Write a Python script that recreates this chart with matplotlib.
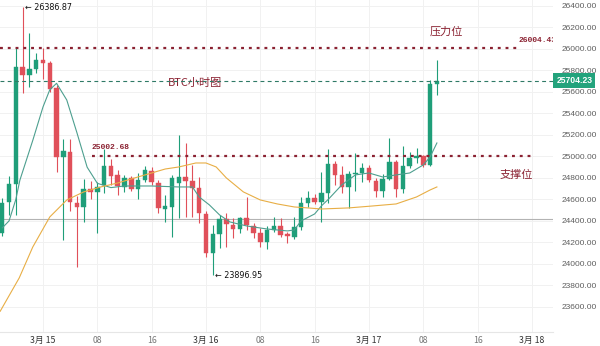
import matplotlib
matplotlib.use("Agg")
import matplotlib.pyplot as plt
import matplotlib.transforms as mtransforms

# hourly candles, hour 0 = 3月15 00:00
hours = list(range(-6, 59))
opens = [24288, 24577, 24744, 25832, 25758, 25813, 25897, 25869, 25637, 24995,
         25042, 24567, 24530, 24697, 24670, 24735, 24911, 24828, 24716, 24800,
         24697, 24781, 24865, 24753, 24511, 24530, 24753, 24809, 24772, 24707,
         24465, 24102, 24279, 24418, 24363, 24325, 24428, 24353, 24288, 24205,
         24316, 24353, 24279, 24251, 24344, 24567, 24614, 24577, 24660, 24930,
         24828, 24716, 24837, 24846, 24893, 24772, 24679, 24790, 24948, 24697,
         24911, 24986, 25004, 24920, 25674]
highs = [24614, 24818, 26018, 26386.87, 26148, 25962, 26009, 25888, 25665, 25162,
         25162, 24632, 24790, 24772, 24763, 25069, 24976, 24874, 24828, 24818,
         24846, 24911, 24902, 24781, 24642, 24828, 25200, 25125, 24921, 24809,
         24493, 24363, 24456, 24474, 24428, 24437, 24623, 24381, 24335, 24353,
         24437, 24428, 24298, 24437, 24623, 24679, 24651, 24856, 25069, 24958,
         24911, 24865, 25032, 24939, 24921, 24800, 24837, 25172, 24967, 25097,
         25042, 25079, 25014, 25711, 25897]
lows = [24260, 24456, 24456, 25590, 25646, 25776, 25720, 25600, 24856, 24223,
        24493, 23972, 24391, 24604, 24288, 24660, 24735, 24642, 24670, 24679,
        24604, 24763, 24735, 24474, 24391, 24251, 24428, 24437, 24437, 24381,
        24065, 23896.95, 24149, 24158, 24242, 24288, 24316, 24242, 24158, 24139,
        24298, 24251, 24195, 24232, 24316, 24530, 24558, 24391, 24567, 24735,
        24660, 24521, 24679, 24763, 24763, 24623, 24623, 24781, 24623, 24660,
        24893, 24939, 24902, 24911, 25572]
closes = [24567, 24744, 25832, 25758, 25813, 25897, 25869, 25627, 24995, 25051,
          24577, 24530, 24697, 24670, 24716, 24911, 24818, 24725, 24800, 24697,
          24781, 24874, 24763, 24521, 24539, 24800, 24809, 24772, 24707, 24474,
          24102, 24279, 24418, 24372, 24325, 24428, 24363, 24288, 24205, 24316,
          24353, 24270, 24260, 24344, 24567, 24614, 24577, 24660, 24930, 24828,
          24716, 24837, 24846, 24893, 24781, 24679, 24790, 24948, 24697, 24911,
          24986, 25004, 24921, 25674, 25704.23]

# moving averages
ma_fast_hours = [-6, -5, -4, -3.4, -1.5, 0, 1, 2, 3.5, 5, 6.5, 8, 10, 12, 16, 20, 22,
                 23, 24.5, 26, 27.5, 30, 33, 36, 37, 38, 40, 41, 42, 44, 46, 48, 50,
                 52, 54, 56, 57, 58]
ma_fast = [24335, 24400, 24600, 24780, 25150, 25460, 25620, 25680, 25525, 25220,
           24900, 24750, 24710, 24725, 24725, 24716, 24716, 24623, 24549, 24456,
           24391, 24353, 24325, 24307, 24316, 24400, 24465, 24540, 24600, 24735,
           24828, 24846, 24809, 24828, 24846, 24921, 24995, 25125]
ma_slow_hours = [-6.3, -3.5, -1.5, 1, 3.5, 6, 8.5, 11, 13.5, 16, 18, 20, 22.5, 24,
                 25.5, 27, 29.5, 32, 34.5, 37, 39, 41, 45, 48.5, 52, 55, 57, 58]
ma_slow = [23560, 23870, 24158, 24437, 24595, 24670, 24716, 24753, 24800, 24846,
           24883, 24902, 24939, 24939, 24902, 24800, 24670, 24595, 24558, 24530,
           24521, 24511, 24521, 24539, 24558, 24623, 24688, 24716]

resistance = 26004.43
support = 25002.68
last_price = 25704.23
ref_level = 24418
high_label = "← 26386.87"
low_label = "← 23896.95"

yticks = list(range(23600, 26401, 200))
xtick_hours = [0, 8, 16, 24, 32, 40, 48, 56, 64, 72]
xtick_labels = ["3月 15", "08", "16", "3月 16", "08", "16", "3月 17", "08", "16", "3月 18"]

green = "#1f9e79"
red = "#e0505a"
maroon = "#8b2232"

fig = plt.figure(figsize=(6, 3.46), dpi=100)
ax = fig.add_axes([0, 0.0405, 0.9217, 0.9595])
ax.set_xlim(-6.33, 75.1)
ax.set_ylim(23367, 26455)

ax.set_yticks(yticks)
ax.set_xticks(xtick_hours)
ax.grid(True, color="#f1f1f1", linewidth=0.7)
ax.set_axisbelow(True)
for s in ["top", "left", "right"]:
    ax.spines[s].set_visible(False)
ax.spines["bottom"].set_color("#e6e6e6")

ax.axhline(ref_level, color="#b3b3b3", linewidth=0.8, zorder=1)

# candles
for t, o, h, l, c in zip(hours, opens, highs, lows, closes):
    col = green if c >= o else red
    ax.vlines(t, l, h, color=col, linewidth=0.8, zorder=3)
    ax.bar(t, max(abs(c - o), 10), bottom=min(o, c), width=0.66,
           color=col, edgecolor=col, linewidth=0.3, zorder=4)

ax.plot(ma_fast_hours, ma_fast, color="#4d9f8f", linewidth=0.8, zorder=5)
ax.plot(ma_slow_hours, ma_slow, color="#e8ae45", linewidth=0.8, zorder=5)

# levels
ax.plot([-6.33, 70], [resistance, resistance], color=maroon, linewidth=1.6,
        linestyle=(0, (1.3, 2.2)), zorder=6)
ax.plot([7.2, 72.5], [support, support], color=maroon, linewidth=1.6,
        linestyle=(0, (1.3, 2.2)), zorder=6)
ax.axhline(last_price, color="#2f7a66", linewidth=0.8, linestyle=(0, (3.5, 3)), zorder=6)

mono = ["Liberation Mono", "DejaVu Sans Mono"]
ax.text(7.2, support + 45, "25002.68", color=maroon, fontsize=5.8, family=mono,
        fontweight="bold", va="bottom", ha="left")
ax.text(70.0, resistance + 45, "26004.43", color=maroon, fontsize=5.8, family=mono,
        fontweight="bold", va="bottom", ha="left", clip_on=True)

cjk = ["Noto Sans CJK SC", "DejaVu Sans"]
ax.text(18.4, 25680, "BTC小时图", color=maroon, fontsize=8, family=cjk, va="center")
ax.text(56.9, 26160, "压力位", color=maroon, fontsize=8, family=cjk, va="center")
ax.text(67.3, 24830, "支撑位", color=maroon, fontsize=8, family=cjk, va="center")

ax.text(-2.6, 26386.87, high_label, fontsize=5.8, color="#111111", va="center", ha="left")
ax.text(25.4, 23896.95, low_label, fontsize=5.8, color="#111111", va="center", ha="left")

# right price axis
ax.yaxis.tick_right()
ax.set_yticklabels([f"{v:.2f}" for v in yticks], family=["Liberation Sans", "DejaVu Sans"])
ax.tick_params(axis="y", length=0, pad=6, labelsize=6, labelcolor="#5e5e5e")
ax.tick_params(axis="x", length=0, pad=3, labelsize=6.3, labelcolor="#777777")
ax.set_xticklabels(xtick_labels, family=cjk)
for lbl, txt in zip(ax.get_xticklabels(), xtick_labels):
    if "月" in txt:
        lbl.set_color("#333333")

trans = mtransforms.blended_transform_factory(ax.transAxes, ax.transData)
ax.text(1.006, last_price, "25704.23", transform=trans, fontsize=6.2, color="white",
        fontweight="bold", family=["Liberation Sans", "DejaVu Sans"],
        va="center", ha="left", clip_on=False,
        bbox=dict(boxstyle="square,pad=0.35", facecolor="#23a37c", edgecolor="none"))

fig.savefig("out.png", dpi=100, facecolor="white")
